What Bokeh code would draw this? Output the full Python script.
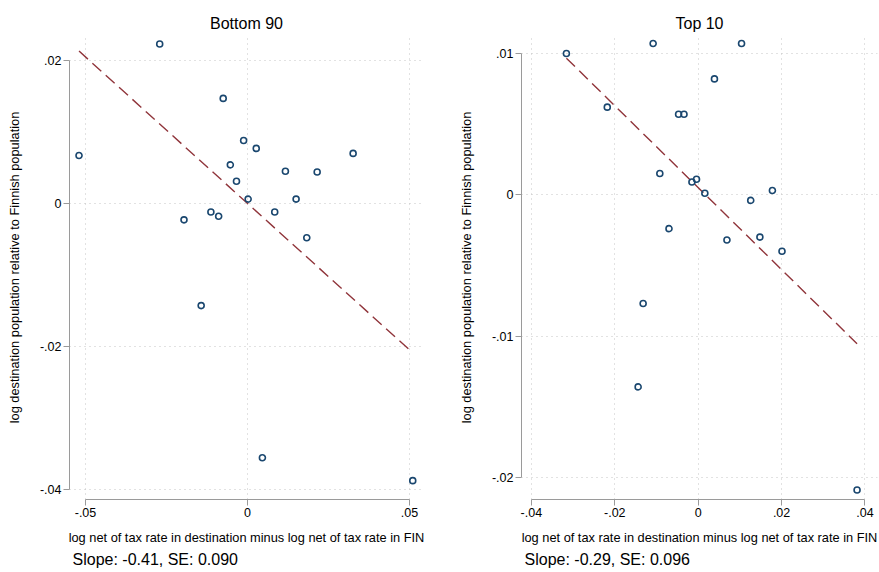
from bokeh.plotting import figure
from bokeh.layouts import row
from bokeh.models import FixedTicker, Range1d, Title, ColumnDataSource
from bokeh.embed import file_html
from bokeh.resources import INLINE

# ---------------- data ----------------
panel_titles = ["Bottom 90", "Top 10"]
x_title = "log net of tax rate in destination minus log net of tax rate in FIN"
y_title = "log destination population relative to Finnish population"

b90_x = [-0.0271, -0.0520, -0.0075, -0.0012, 0.0027, -0.0053, -0.0034, 0.0117, 0.0215, 0.0326,
         0.0002, 0.0150, -0.0196, -0.0113, -0.0089, 0.0084, 0.0183, -0.0143, 0.0046, 0.0510]
b90_y = [0.0223, 0.0067, 0.0147, 0.0088, 0.0077, 0.0054, 0.0031, 0.0045, 0.0044, 0.0070,
         0.0006, 0.0006, -0.0023, -0.0012, -0.0018, -0.0012, -0.0048, -0.0143, -0.0356, -0.0388]
b90_slope = -0.41
b90_intercept = 0.0
b90_note = "Slope: -0.41, SE: 0.090"

t10_x = [-0.0316, -0.0108, 0.0104, 0.0039, -0.0218, -0.0047, -0.0034, -0.0092, -0.0015, -0.0004,
         0.0016, 0.0178, 0.0126, -0.0070, 0.0069, 0.0148, 0.0201, -0.0132, -0.0144, 0.0381]
t10_y = [0.0100, 0.0107, 0.0107, 0.0082, 0.0062, 0.0057, 0.0057, 0.0015, 0.0009, 0.0011,
         0.0001, 0.0003, -0.0004, -0.0024, -0.0032, -0.0030, -0.0040, -0.0077, -0.0136, -0.0209]
t10_slope = -0.29
t10_intercept = 0.0005
t10_note = "Slope: -0.29, SE: 0.096"

b90_xticks = [-0.05, 0, 0.05]
b90_xlabels = ["-.05", "0", ".05"]
b90_yticks = [-0.04, -0.02, 0, 0.02]
b90_ylabels = ["-.04", "-.02", "0", ".02"]
t10_xticks = [-0.04, -0.02, 0, 0.02, 0.04]
t10_xlabels = ["-.04", "-.02", "0", ".02", ".04"]
t10_yticks = [-0.02, -0.01, 0, 0.01]
t10_ylabels = ["-.02", "-.01", "0", ".01"]

FONT = "Liberation Sans"
NAVY = "#1a476f"
MAROON = "#90353b"
GRID = "#c4c4c4"
AXIS = "#9a9a9a"


def make_panel(title, xs, ys, slope, intercept, note, xticks, xlabels, yticks, ylabels,
               xr, yr, width, mbl, mbr):
    p = figure(width=width, height=570, output_backend="svg", toolbar_location=None,
               x_range=Range1d(*xr), y_range=Range1d(*yr),
               min_border_left=mbl, min_border_right=mbr, min_border_top=35,
               min_border_bottom=71)
    p.outline_line_color = None
    p.background_fill_color = "white"
    p.border_fill_color = "white"

    p.title.text = title
    p.title.align = "center"
    p.title.text_font = FONT
    p.title.text_font_size = "16px"
    p.title.text_font_style = "normal"
    p.title.text_color = "#000000"
    p.title.standoff = 8

    for ax, ticks, labels in ((p.xaxis[0], xticks, xlabels), (p.yaxis[0], yticks, ylabels)):
        ax.ticker = FixedTicker(ticks=ticks)
        ax.major_label_overrides = {t: l for t, l in zip(ticks, labels)}
        ax.bounds = (min(ticks), max(ticks))
        ax.axis_line_color = AXIS
        ax.major_tick_line_color = AXIS
        ax.major_tick_out = 6
        ax.major_tick_in = 0
        ax.minor_tick_line_color = None
        ax.major_label_text_font = FONT
        ax.major_label_text_font_size = "12.5px"
        ax.major_label_text_color = "#000000"
        ax.major_label_standoff = 2
        ax.axis_label_text_font = FONT
        ax.axis_label_text_font_size = "12.8px"
        ax.axis_label_text_font_style = "normal"
        ax.axis_label_text_color = "#000000"

    p.xaxis.axis_label = x_title
    p.xaxis.axis_label_standoff = 10
    p.yaxis.axis_label = y_title
    p.yaxis.axis_label_standoff = 15

    for g in (p.xgrid[0], p.ygrid[0]):
        g.grid_line_color = GRID
        g.grid_line_dash = "1 4"
        g.grid_line_width = 1

    # fitted line over the data range
    x0, x1 = min(xs), max(xs)
    fit = ColumnDataSource(dict(x=[x0, x1], y=[intercept + slope * x0, intercept + slope * x1]))
    p.line("x", "y", source=fit, line_color=MAROON, line_width=1.4, line_dash="12 6")

    p.scatter(xs, ys, marker="circle", size=6, fill_color=None, line_color=NAVY, line_width=1.6)

    p.add_layout(Title(text=note, align="left", offset=3, text_font=FONT, text_font_size="16px",
                       text_font_style="normal", text_color="#000000", standoff=2), "below")
    return p


p1 = make_panel(panel_titles[0], b90_x, b90_y, b90_slope, b90_intercept, b90_note,
                b90_xticks, b90_xlabels, b90_yticks, b90_ylabels,
                (-0.05494, 0.05432), (-0.04144, 0.0235), 440, 69, 17)
p2 = make_panel(panel_titles[1], t10_x, t10_y, t10_slope, t10_intercept, t10_note,
                t10_xticks, t10_xlabels, t10_yticks, t10_ylabels,
                (-0.04237, 0.04300), (-0.02157, 0.01127), 439, 81, 2)

layout = row(p1, p2)
open("out.html", "w").write(file_html(layout, INLINE))
